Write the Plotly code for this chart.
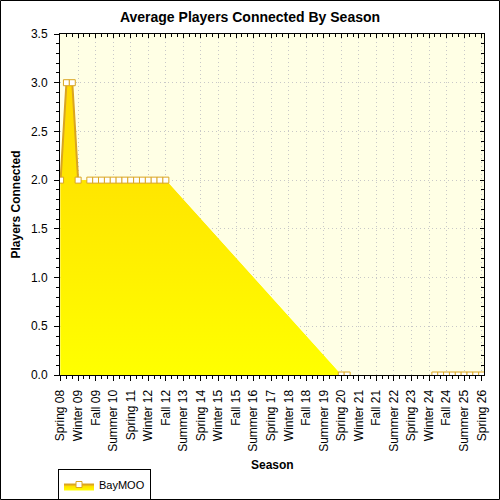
import plotly.graph_objects as go

categories = [
    "Spring 08", "Summer 08", "Fall 08",
    "Winter 09", "Spring 09", "Summer 09", "Fall 09",
    "Winter 10", "Spring 10", "Summer 10", "Fall 10",
    "Winter 11", "Spring 11", "Summer 11", "Fall 11",
    "Winter 12", "Spring 12", "Summer 12", "Fall 12",
    "Winter 13", "Spring 13", "Summer 13", "Fall 13",
    "Winter 14", "Spring 14", "Summer 14", "Fall 14",
    "Winter 15", "Spring 15", "Summer 15", "Fall 15",
    "Winter 16", "Spring 16", "Summer 16", "Fall 16",
    "Winter 17", "Spring 17", "Summer 17", "Fall 17",
    "Winter 18", "Spring 18", "Summer 18", "Fall 18",
    "Winter 19", "Spring 19", "Summer 19", "Fall 19",
    "Winter 20", "Spring 20", "Summer 20", "Fall 20",
    "Winter 21", "Spring 21", "Summer 21", "Fall 21",
    "Winter 22", "Spring 22", "Summer 22", "Fall 22",
    "Winter 23", "Spring 23", "Summer 23", "Fall 23",
    "Winter 24", "Spring 24", "Summer 24", "Fall 24",
    "Winter 25", "Spring 25", "Summer 25", "Fall 25",
    "Winter 26", "Spring 26",
]

players = [
    2, 3, 3, 2, None,
    2, 2, 2, 2, 2, 2, 2, 2, 2, 2, 2, 2, 2, 2,
    None, None, None, None, None, None, None, None, None, None,
    None, None, None, None, None, None, None, None, None, None,
    None, None, None, None, None, None, None, None, None,
    0, 0,
    None, None, None, None, None, None, None, None, None, None,
    None, None, None, None,
    0, 0, 0, 0, 0, 0, 0, 0, 0,
]

tick_labels = [
    "Spring 08", "Winter 09", "Fall 09", "Summer 10", "Spring 11",
    "Winter 12", "Fall 12", "Summer 13", "Spring 14", "Winter 15",
    "Fall 15", "Summer 16", "Spring 17", "Winter 18", "Fall 18",
    "Summer 19", "Spring 20", "Winter 21", "Fall 21", "Summer 22",
    "Spring 23", "Winter 24", "Fall 24", "Summer 25", "Spring 26",
]

series_name = "BayMOO"

x_idx = list(range(len(categories)))
tick_idx = [categories.index(t) for t in tick_labels]

FONT = "Liberation Sans, Arial, sans-serif"
LINE = "#DAA520"
GRID = "#C8C8C8"
grad = dict(type="vertical", start=0, stop=3.5,
            colorscale=[[0, "#FFFF00"], [1, "#FFD200"]])

W, H = 500, 500
L, R, T, B = 60, 16, 34, 125
PW, PH = W - L - R, H - T - B
XR = [-0.1, 72.4]
YR = [0, 3.5]

fig = go.Figure()
# area with gaps bridged
fig.add_trace(go.Scatter(
    x=x_idx, y=players, mode="none", connectgaps=True,
    fill="tozeroy", fillgradient=grad, showlegend=False, hoverinfo="skip"))
# line + markers, not bridged
fig.add_trace(go.Scatter(
    x=x_idx, y=players, mode="lines+markers", connectgaps=False,
    fill="tozeroy", fillgradient=grad,
    line=dict(color=LINE, width=2),
    marker=dict(symbol="square", size=6, color="white",
                line=dict(color=LINE, width=1)),
    name=series_name, customdata=categories,
    hovertemplate="%{customdata}: %{y}<extra></extra>"))
# helper trace for mirrored axes
fig.add_trace(go.Scatter(
    x=[0], y=[0], xaxis="x2", yaxis="y2", mode="markers",
    marker=dict(opacity=0), showlegend=False, hoverinfo="skip"))

fig.update_layout(
    width=W, height=H,
    margin=dict(l=L, r=R, t=T, b=B, pad=0, autoexpand=False),
    paper_bgcolor="white", plot_bgcolor="#FFFFE5",
    font=dict(family=FONT, size=12, color="black"),
    title=dict(text="<b>Average Players Connected By Season</b>",
               x=0.5, xref="container", xanchor="center",
               y=1 - 17 / H, yref="container", yanchor="middle",
               font=dict(family=FONT, size=14, color="black")),
    xaxis=dict(
        range=XR, tickmode="array", tickvals=tick_idx, ticktext=tick_labels,
        tickangle=-90, ticks="outside", ticklen=5, tickcolor="black",
        showline=True, linecolor="black", linewidth=1, mirror=True,
        showgrid=True, gridcolor=GRID, griddash="1px,3px", gridwidth=1,
        zeroline=False, ticklabelstandoff=4, automargin=False,
        tickfont=dict(family=FONT, size=12, color="black"),
        minor=dict(tickmode="linear", tick0=0, dtick=1, ticks="outside",
                   ticklen=3, tickcolor="black", showgrid=False),
    ),
    yaxis=dict(
        range=YR, tickmode="linear", tick0=0, dtick=0.5, tickformat=".1f",
        ticks="outside", ticklen=5, tickcolor="black",
        showline=True, linecolor="black", linewidth=1, mirror=True,
        showgrid=True, gridcolor=GRID, griddash="1px,3px", gridwidth=1,
        zeroline=False, ticklabelstandoff=4, automargin=False,
        tickfont=dict(family=FONT, size=12, color="black"),
        minor=dict(tickmode="linear", tick0=0, dtick=0.1, ticks="outside",
                   ticklen=3, tickcolor="black", showgrid=False),
    ),
    xaxis2=dict(
        overlaying="x", side="top", anchor="y2", range=XR,
        tickmode="array", tickvals=tick_idx, ticks="inside", ticklen=4,
        tickcolor="black", showticklabels=False, showgrid=False,
        zeroline=False, showline=False, automargin=False,
        minor=dict(tickmode="linear", tick0=0, dtick=1, ticks="inside",
                   ticklen=3, tickcolor="black", showgrid=False),
    ),
    yaxis2=dict(
        overlaying="y", side="right", anchor="x2", range=YR,
        tickmode="linear", tick0=0, dtick=0.5, ticks="inside", ticklen=4,
        tickcolor="black", showticklabels=False, showgrid=False,
        zeroline=False, showline=False, automargin=False,
        minor=dict(tickmode="linear", tick0=0, dtick=0.1, ticks="inside",
                   ticklen=3, tickcolor="black", showgrid=False),
    ),
    legend=dict(
        xref="container", yref="container",
        x=58 / W, y=1 - 469 / H, xanchor="left", yanchor="top",
        orientation="v", bgcolor="white", bordercolor="black", borderwidth=1,
        font=dict(family=FONT, size=11, color="black"),
        itemwidth=30, tracegroupgap=0,
    ),
    annotations=[
        dict(text="<b>Players Connected</b>", textangle=-90,
             x=(15 - L) / PW, y=0.5, xref="paper", yref="paper",
             xanchor="center", yanchor="middle", showarrow=False,
             font=dict(family=FONT, size=12, color="black")),
        dict(text="<b>Season</b>",
             x=0.5, y=(PH + T - 465) / PH, xref="paper", yref="paper",
             xanchor="center", yanchor="middle", showarrow=False,
             font=dict(family=FONT, size=12, color="black")),
    ],
    shapes=[
        dict(type="rect", xref="paper", yref="paper",
             x0=(-L + 0.5) / PW, x1=(PW + R - 0.5) / PW,
             y0=(-B + 0.5) / PH, y1=(PH + T - 0.5) / PH,
             line=dict(color="black", width=1), fillcolor="rgba(0,0,0,0)",
             layer="above"),
    ],
)

fig.write_html(
    "out.html",
    config={"displayModeBar": False},
    post_script="document.body.style.margin='0';document.body.style.padding='0';",
)
